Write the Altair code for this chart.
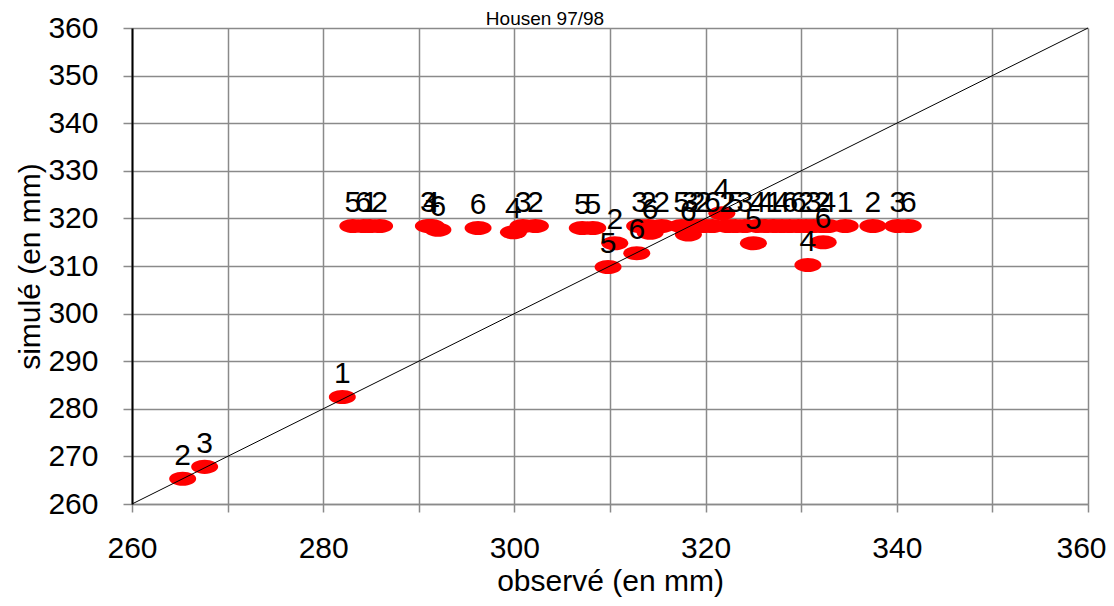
import altair as alt
import pandas as pd

# observed (x) and simulated (y) values, with point labels
obs = [265.3, 267.6, 282.0,
       283.1, 284.2, 284.9, 285.9,
       291.0, 291.3, 292.0,
       296.2,
       299.9, 300.9, 302.2,
       307.1, 308.2,
       309.8, 310.5, 312.8,
       313.1, 314.0, 314.2, 315.4, 317.5, 318.2, 318.4, 319.1, 319.8, 320.7,
       321.7, 322.3, 323.1, 324.1, 325.0, 325.5, 326.3, 327.2, 328.0, 328.8,
       329.7, 330.5, 330.7, 331.3, 332.2, 332.3, 332.8, 334.6, 337.5, 340.1, 341.2]
sim = [265.3, 267.8, 282.5,
       318.4, 318.4, 318.4, 318.4,
       318.4, 318.4, 317.6,
       318.0,
       317.1, 318.4, 318.4,
       318.0, 318.0,
       309.8, 314.8, 312.7,
       318.4, 318.4, 317.0, 318.4, 318.4, 316.6, 318.4, 318.4, 318.4, 318.4,
       321.1, 318.4, 318.4, 318.4, 314.8, 318.4, 318.4, 318.4, 318.4, 318.4,
       318.4, 318.4, 310.2, 318.4, 318.4, 315.0, 318.4, 318.4, 318.4, 318.4, 318.4]
labels = ["2", "3", "1",
          "5", "6", "1", "2",
          "3", "4", "6",
          "6",
          "4", "3", "2",
          "5", "5",
          "5", "2", "6",
          "3", "2", "6", "2", "5", "6", "3", "2", "2", "6",
          "4", "2", "5", "3", "5", "4", "4", "1", "4", "6",
          "6", "2", "4", "3", "2", "6", "4", "1", "2", "3", "6"]

diag_x = [260, 360]
diag_y = [260, 360]

title_text = ["Housen 97/98"]

x_ticks = [260, 270, 280, 290, 300, 310, 320, 330, 340, 350, 360]
y_ticks = [260, 265, 270, 275, 280, 285, 290, 295, 300, 305, 310, 315, 320,
           325, 330, 335, 340, 345, 350, 355, 360]

FONT = "Liberation Sans"
GRID = "#8a8a8a"
FS = 30

df = pd.DataFrame({"obs": obs, "sim": sim, "lab": labels})
diag = pd.DataFrame({"obs": diag_x, "sim": diag_y})
tdf = pd.DataFrame({"t": title_text})

xscale = alt.Scale(domain=[260, 360], nice=False, zero=False)
yscale = alt.Scale(domain=[260, 360], nice=False, zero=False)

xaxis = alt.Axis(
    title="observé (en mm)", values=x_ticks, format="d",
    labelExpr="datum.value % 20 === 0 ? datum.label : ''",
    labelFont=FONT, labelFontSize=FS, labelColor="black", labelPadding=21,
    labelOffset={"condition": {"test": "datum.value === 360", "value": -7}, "value": 0},
    titleFont=FONT, titleFontSize=FS, titleFontWeight="normal", titleColor="black",
    titlePadding=3,
    grid=True, gridColor=GRID, gridWidth=1.5,
    domainColor=GRID, domainWidth=1.5,
    tickColor=GRID, tickWidth=1.5, tickSize=8,
    labelFlush=False,
)
yaxis = alt.Axis(
    title="simulé (en mm)", values=y_ticks, format="d",
    labelExpr="datum.value % 10 === 0 ? datum.label : ''",
    labelFont=FONT, labelFontSize=FS, labelColor="black", labelPadding=25,
    titleFont=FONT, titleFontSize=FS, titleFontWeight="normal", titleColor="black",
    titlePadding=2,
    grid=True, gridColor=GRID, gridWidth=1.5,
    domainColor="black", domainWidth=2,
    tickColor=GRID, tickWidth=1.5, tickSize=9,
    labelFlush=False,
)

ellipse = "M-1,0 A1,0.52,0,1,1,1,0 A1,0.52,0,1,1,-1,0 Z"

points = alt.Chart(df).mark_point(
    shape=ellipse, filled=True, color="#ff0000", opacity=1, size=729, strokeWidth=0
).encode(
    x=alt.X("obs:Q", scale=xscale, axis=xaxis),
    y=alt.Y("sim:Q", scale=yscale, axis=yaxis),
)

line = alt.Chart(diag).mark_line(color="black", strokeWidth=1).encode(
    x=alt.X("obs:Q", scale=xscale),
    y=alt.Y("sim:Q", scale=yscale),
)

texts = alt.Chart(df).mark_text(
    font=FONT, fontSize=FS, color="black", dy=-14, baseline="alphabetic", align="center"
).encode(
    x=alt.X("obs:Q", scale=xscale),
    y=alt.Y("sim:Q", scale=yscale),
    text="lab:N",
)

title = alt.Chart(tdf).mark_text(
    font=FONT, fontSize=19, color="black", baseline="alphabetic", align="center"
).encode(
    x=alt.value(413), y=alt.value(-3), text="t:N",
)

chart = alt.layer(points, line, texts, title).properties(
    width=956, height=476,
    autosize=alt.AutoSizeParams(type="none"),
    padding={"left": 124, "top": 20, "right": 18, "bottom": 94},
).configure_view(strokeWidth=0).configure(background="white")

chart.save("out.html", embed_options={"renderer": "svg", "actions": False})
